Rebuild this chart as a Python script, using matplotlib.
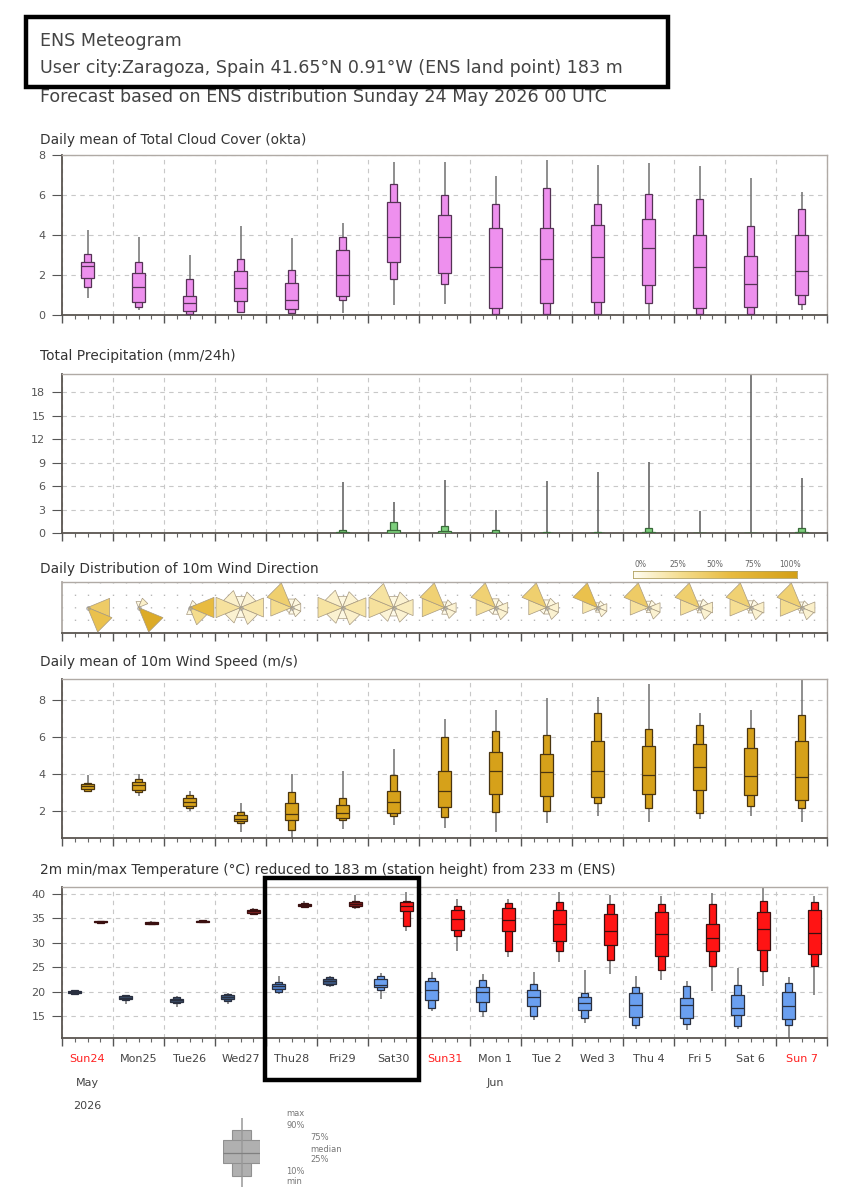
import matplotlib.pyplot as plt
import numpy as np
from matplotlib.colors import LinearSegmentedColormap
from matplotlib.patches import Rectangle
from matplotlib.transforms import blended_transform_factory

W, H = 863, 1200

# ---------------- data ----------------
days = ["Sun24", "Mon25", "Tue26", "Wed27", "Thu28", "Fri29", "Sat30", "Sun31",
        "Mon 1", "Tue 2", "Wed 3", "Thu 4", "Fri 5", "Sat 6", "Sun 7"]
sundays = [0, 7, 14]
months = [(0, "May"), (8, "Jun")]
year = "2026"

cloud_min = [0.85, 0.25, 0.05, 0.1, 0.05, 0.1, 0.5, 0.55, 0.0, 0.0, 0.0, 0.05, 0.0, 0.0, 0.25]
cloud_p10 = [1.4, 0.4, 0.05, 0.15, 0.1, 0.75, 1.8, 1.55, 0.05, 0.05, 0.05, 0.6, 0.05, 0.05, 0.55]
cloud_p25 = [1.85, 0.65, 0.2, 0.7, 0.3, 0.95, 2.65, 2.1, 0.35, 0.6, 0.65, 1.5, 0.35, 0.4, 1.0]
cloud_med = [2.45, 1.4, 0.6, 1.35, 0.75, 2.0, 3.9, 3.9, 2.4, 2.8, 2.9, 3.35, 2.4, 1.55, 2.2]
cloud_p75 = [2.65, 2.1, 0.95, 2.2, 1.6, 3.25, 5.65, 5.0, 4.35, 4.35, 4.5, 4.8, 4.0, 2.95, 4.0]
cloud_p90 = [3.05, 2.65, 1.8, 2.8, 2.25, 3.9, 6.55, 6.0, 5.55, 6.35, 5.55, 6.05, 5.8, 4.45, 5.3]
cloud_max = [4.25, 3.9, 3.0, 4.45, 3.85, 4.6, 7.65, 7.65, 6.95, 7.75, 7.5, 7.6, 7.45, 6.85, 6.15]

precip_min = [0] * 15
precip_p10 = [0] * 15
precip_p25 = [0] * 15
precip_med = [0, 0, 0, 0, 0, 0.0, 0.05, 0.0, 0.0, 0.0, 0.0, 0.0, 0.0, 0.0, 0.0]
precip_p75 = [0, 0, 0, 0, 0, 0.1, 0.4, 0.2, 0.05, 0.0, 0.0, 0.1, 0.0, 0.0, 0.1]
precip_p90 = [0, 0, 0, 0, 0, 0.35, 1.4, 0.9, 0.4, 0.1, 0.1, 0.7, 0.05, 0.05, 0.7]
precip_max = [0, 0, 0, 0, 0, 6.5, 4.0, 6.8, 3.0, 6.7, 7.8, 9.1, 2.8, 24.0, 7.0]

# wind direction frequency per day, sectors N, NE, E, SE, S, SW, W, NW
wind_dir_freq = [
    [0.0, 0.0, 0.45, 0.55, 0.0, 0.0, 0.0, 0.0],
    [0.05, 0.12, 0.0, 0.83, 0.0, 0.0, 0.0, 0.0],
    [0.0, 0.05, 0.6, 0.3, 0.05, 0.0, 0.0, 0.0],
    [0.05, 0.1, 0.22, 0.12, 0.04, 0.1, 0.25, 0.12],
    [0.05, 0.06, 0.06, 0.06, 0.03, 0.02, 0.3, 0.42],
    [0.05, 0.1, 0.22, 0.12, 0.05, 0.1, 0.24, 0.12],
    [0.05, 0.1, 0.16, 0.09, 0.03, 0.08, 0.25, 0.24],
    [0.02, 0.04, 0.09, 0.08, 0.03, 0.01, 0.33, 0.4],
    [0.05, 0.04, 0.1, 0.1, 0.03, 0.03, 0.25, 0.4],
    [0.04, 0.06, 0.1, 0.1, 0.03, 0.03, 0.22, 0.42],
    [0.02, 0.04, 0.08, 0.08, 0.02, 0.01, 0.2, 0.55],
    [0.03, 0.04, 0.1, 0.1, 0.02, 0.01, 0.25, 0.45],
    [0.03, 0.05, 0.12, 0.1, 0.02, 0.01, 0.25, 0.42],
    [0.03, 0.04, 0.12, 0.1, 0.02, 0.01, 0.28, 0.4],
    [0.02, 0.03, 0.12, 0.1, 0.02, 0.01, 0.3, 0.4],
]

ws_min = [3.05, 2.8, 2.0, 0.9, 0.55, 1.05, 1.25, 1.1, 0.9, 1.35, 1.75, 1.4, 1.6, 1.75, 1.4]
ws_p10 = [3.1, 3.05, 2.15, 1.35, 1.0, 1.5, 1.75, 1.7, 1.95, 2.0, 2.45, 2.15, 1.9, 2.3, 2.15]
ws_p25 = [3.2, 3.15, 2.3, 1.45, 1.5, 1.65, 1.9, 2.25, 2.95, 2.8, 2.75, 2.95, 3.15, 2.9, 2.6]
ws_med = [3.35, 3.4, 2.5, 1.6, 1.85, 1.9, 2.5, 3.1, 4.15, 4.1, 4.2, 3.95, 4.4, 3.9, 3.85]
ws_p75 = [3.45, 3.6, 2.7, 1.8, 2.45, 2.35, 3.1, 4.15, 5.2, 5.1, 5.8, 5.5, 5.65, 5.4, 5.8]
ws_p90 = [3.55, 3.75, 2.85, 1.95, 3.05, 2.7, 3.95, 6.0, 6.35, 6.1, 7.3, 6.45, 6.65, 6.5, 7.2]
ws_max = [3.95, 4.0, 3.1, 2.45, 4.0, 4.2, 5.35, 7.0, 7.45, 8.1, 8.15, 8.9, 7.3, 7.45, 9.3]

tmin_min = [19.3, 17.4, 16.9, 17.5, 19.6, 20.9, 18.5, 16.0, 14.8, 14.1, 13.6, 12.4, 12.2, 12.4, 10.5]
tmin_p10 = [19.6, 18.3, 17.6, 18.0, 20.0, 21.3, 20.4, 16.6, 16.0, 15.0, 14.6, 13.2, 13.4, 13.0, 13.1]
tmin_p25 = [19.75, 18.5, 17.9, 18.4, 20.5, 21.6, 20.9, 18.2, 17.8, 17.0, 16.3, 14.8, 14.6, 15.3, 14.4]
tmin_med = [19.95, 18.75, 18.2, 18.85, 21.2, 22.2, 21.3, 20.3, 20.0, 18.9, 17.7, 17.2, 17.2, 16.6, 17.1]
tmin_p75 = [20.15, 19.0, 18.5, 19.2, 21.6, 22.6, 22.6, 22.1, 20.9, 20.4, 18.8, 19.7, 18.7, 19.2, 19.9]
tmin_p90 = [20.3, 19.2, 18.8, 19.6, 22.0, 22.9, 23.1, 22.7, 22.3, 21.6, 19.8, 20.9, 21.2, 21.4, 21.8]
tmin_max = [20.4, 19.4, 19.0, 19.8, 23.1, 23.1, 23.8, 24.0, 23.6, 24.0, 24.5, 23.1, 22.2, 24.9, 22.9]

tmax_min = [34.0, 33.7, 34.0, 35.6, 37.2, 36.8, 32.3, 28.4, 27.1, 26.0, 23.5, 22.3, 20.1, 21.1, 19.4]
tmax_p10 = [34.1, 33.8, 34.15, 35.9, 37.4, 37.3, 33.5, 31.3, 28.3, 28.3, 26.4, 24.5, 25.3, 24.2, 25.3]
tmax_p25 = [34.15, 33.9, 34.25, 36.1, 37.5, 37.6, 36.4, 32.6, 32.3, 30.3, 29.5, 27.3, 28.3, 28.6, 27.7]
tmax_med = [34.25, 34.0, 34.4, 36.4, 37.75, 37.95, 37.5, 34.8, 34.7, 33.8, 32.4, 31.8, 31.0, 32.8, 31.9]
tmax_p75 = [34.35, 34.15, 34.5, 36.7, 37.95, 38.3, 38.4, 36.7, 37.1, 36.7, 35.9, 36.2, 33.8, 36.2, 36.6]
tmax_p90 = [34.45, 34.25, 34.6, 36.9, 38.1, 38.5, 38.6, 37.5, 38.1, 38.4, 37.9, 37.9, 38.0, 38.6, 38.4]
tmax_max = [34.5, 34.35, 34.7, 37.2, 38.5, 39.8, 40.4, 38.9, 38.9, 40.3, 39.8, 39.6, 40.1, 41.8, 39.6]

# ---------------- styles ----------------
tmax_colors = ['#4a2828', '#4a2828', '#4a2828', '#8a2424', '#7c1e1e', '#8b1c1c'] + ['#ff1414'] * 9
tmin_colors = ['#424c5a', '#3d4f6a', '#3d4f6a', '#3d5a80', '#5080c8', '#3d5a85'] + ['#6a9ff0'] * 9
text_col = '#444444'
NW, WW = 0.14, 0.25   # narrow / wide box widths in days

fig = plt.figure(figsize=(W / 100, H / 100), dpi=100)
ndays = len(days)
xd = np.arange(ndays)


def px_axes(x0, y0, x1, y1):
    return fig.add_axes([x0 / W, 1 - y1 / H, (x1 - x0) / W, (y1 - y0) / H])


def setup(ax, ylim, yticks, dashed=True):
    ax.set_xlim(0, ndays)
    ax.set_ylim(*ylim)
    ax.set_xticks(np.arange(ndays + 1))
    ax.set_xticks(np.arange(0, ndays + 0.01, 0.25), minor=True)
    ax.set_xticklabels([])
    ax.set_yticks(yticks)
    ax.tick_params(axis='x', which='major', length=6, width=1, color='#555')
    ax.tick_params(axis='x', which='minor', length=3, width=0.8, color='#666')
    ax.tick_params(axis='y', length=7, width=0.8, color='#555', labelsize=8,
                   labelcolor='#555', pad=5)
    for s in ['left', 'bottom']:
        ax.spines[s].set_color('#5a5550')
        ax.spines[s].set_linewidth(1.3)
    for s in ['top', 'right']:
        ax.spines[s].set_color('#b0aaa5')
        ax.spines[s].set_linewidth(1.0)
    if dashed:
        ax.grid(True, which='major', color='#c8c8c8', linestyle=(0, (4, 4)), linewidth=0.8)
    ax.set_axisbelow(True)


def boxes(ax, x, mn, p10, p25, med, p75, p90, mx, fc, ec, wc='#707070'):
    x = np.asarray(x, dtype=float)
    ax.vlines(x, mn, mx, color=wc, lw=1.1, zorder=2)
    ax.bar(x, np.subtract(p90, p10), bottom=p10, width=NW, color=fc, edgecolor=ec,
           lw=0.9, zorder=3)
    ax.bar(x, np.subtract(p75, p25), bottom=p25, width=WW, color=fc, edgecolor=ec,
           lw=0.9, zorder=4)
    ax.hlines(med, x - WW / 2, x + WW / 2, color=ec, lw=0.9, zorder=5)


# ---- cloud cover ----
ax1 = px_axes(62, 155, 827, 315)
setup(ax1, (0, 8), [0, 2, 4, 6, 8])
boxes(ax1, xd + 0.5, cloud_min, cloud_p10, cloud_p25, cloud_med, cloud_p75, cloud_p90,
      cloud_max, '#ee90ee', '#553355')

# ---- precipitation ----
ax2 = px_axes(62, 374, 827, 533)
setup(ax2, (0, 20.3), [0, 3, 6, 9, 12, 15, 18])
wet = np.nonzero(precip_max)[0]
pick = lambda a: np.asarray(a, dtype=float)[wet]
boxes(ax2, xd[wet] + 0.5, pick(precip_min), pick(precip_p10), pick(precip_p25),
      pick(precip_med), pick(precip_p75), pick(precip_p90), pick(precip_max),
      '#7ccf7c', '#3a6a3a', wc='#5a5a5a')

# ---- wind direction ----
ax3 = px_axes(62, 582, 827, 633)
setup(ax3, (-0.5, 0.5), [], dashed=False)
ax3.spines['left'].set_color('#b0aaa5')
ax3.grid(True, which='minor', axis='x', color='#b8b8b8', linestyle=(0, (1, 8)), linewidth=1.0)
ax3.grid(True, which='major', axis='x', color='#b8b8b8', linestyle=(0, (1, 8)), linewidth=1.0)
wd_cmap = LinearSegmentedColormap.from_list(
    'wd', [(0, '#fffdf2'), (0.3, '#f4dc8c'), (0.6, '#e8bb40'), (1, '#d4a017')])
R = 0.52
for i, freqs in enumerate(wind_dir_freq):
    f = np.asarray(freqs)
    x0 = i + 0.5
    for k, fk in enumerate(f):
        if fk <= 0:
            continue
        r = R * np.sqrt(fk / f.max())
        th = np.deg2rad(k * 45 + np.array([-22.5, 22.5]))
        ax3.fill([x0, x0 + r * np.sin(th[0]), x0 + r * np.sin(th[1])],
                 [0, r * np.cos(th[0]), r * np.cos(th[1])],
                 fc=wd_cmap(fk), ec='#a89a80', lw=0.5, zorder=3, clip_on=False)
    ax3.plot(x0, 0, 'o', ms=2.5, mfc='none', mec='#999', mew=0.6, zorder=4)

cax = px_axes(633, 571, 797, 578)
cax.imshow(np.linspace(0, 1, 256)[None, :], extent=(-0.05, 1.05, 0, 1), aspect='auto',
           cmap=wd_cmap)
cax.set_xlim(-0.05, 1.05)
cax.set_yticks([])
cax.set_xticks([0, 0.25, 0.5, 0.75, 1.0])
cax.set_xticklabels(['0%', '25%', '50%', '75%', '100%'])
cax.tick_params(axis='x', top=True, labeltop=True, bottom=False, labelbottom=False,
                length=0, labelsize=5.5, labelcolor='#666', pad=1.5)
for s in cax.spines.values():
    s.set_color('#b0a060')
    s.set_linewidth(0.6)

# ---- wind speed ----
ax4 = px_axes(62, 679, 827, 838)
setup(ax4, (0.55, 9.15), [2, 4, 6, 8])
boxes(ax4, xd + 0.5, ws_min, ws_p10, ws_p25, ws_med, ws_p75, ws_p90, ws_max,
      '#d6a11a', '#4a3510')

# ---- temperature ----
ax5 = px_axes(62, 887, 827, 1038)
setup(ax5, (10.5, 41.4), [15, 20, 25, 30, 35, 40])
boxes(ax5, xd + 0.25, tmin_min, tmin_p10, tmin_p25, tmin_med, tmin_p75, tmin_p90,
      tmin_max, tmin_colors, '#2a3040')
boxes(ax5, xd + 0.75, tmax_min, tmax_p10, tmax_p25, tmax_med, tmax_p75, tmax_p90,
      tmax_max, tmax_colors, '#3a1010')

tr = blended_transform_factory(ax5.transData, fig.transFigure)
for i, d in enumerate(days):
    ax5.text(i + 0.5, 1 - 1059 / H, d, transform=tr, ha='center', va='center', fontsize=8,
             color='#ff2020' if i in sundays else text_col)
for i, m in months:
    ax5.text(i + 0.5, 1 - 1083 / H, m, transform=tr, ha='center', va='center', fontsize=8,
             color=text_col)
ax5.text(0.5, 1 - 1106 / H, year, transform=tr, ha='center', va='center', fontsize=8,
         color=text_col)

# ---- overlay: titles, header, highlight boxes, legend ----
ov = fig.add_axes([0, 0, 1, 1], zorder=10)
ov.set_xlim(0, W)
ov.set_ylim(H, 0)
ov.axis('off')
ov.patch.set_alpha(0)

ov.text(40, 41, "ENS Meteogram", fontsize=12.6, color=text_col, va='center')
ov.text(40, 68, "User city:Zaragoza, Spain 41.65°N 0.91°W (ENS land point) 183 m",
        fontsize=12.6, color=text_col, va='center')
ov.text(40, 97, "Forecast based on ENS distribution Sunday 24 May 2026 00 UTC",
        fontsize=12.6, color=text_col, va='center', zorder=1)

titles = [(140, "Daily mean of Total Cloud Cover (okta)"),
          (356, "Total Precipitation (mm/24h)"),
          (569, "Daily Distribution of 10m Wind Direction"),
          (662, "Daily mean of 10m Wind Speed (m/s)"),
          (870, "2m min/max Temperature (°C) reduced to 183 m (station height) from 233 m (ENS)")]
for y, t in titles:
    ov.text(40, y, t, fontsize=9.9, color='#333', va='center')

ov.add_patch(Rectangle((25.5, 17), 642, 70, fill=False, ec='black', lw=3.2, zorder=5))
ov.add_patch(Rectangle((264.5, 877.5), 154, 202, fill=False, ec='black', lw=3.2, zorder=5))

# legend box-plot key
leg = ov.inset_axes([223, 1118, 37, 69], transform=ov.transData)
leg.set_xlim(-0.5, 0.5)
leg.set_ylim(0, 6)
leg.axis('off')
leg_stats = [0, 1, 2, 3, 4, 5, 6]   # min, 10%, 25%, median, 75%, 90%, max
lw_n = 0.51
leg.vlines(0, leg_stats[0], leg_stats[6], color='#999', lw=1.1)
leg.bar(0, leg_stats[5] - leg_stats[1], bottom=leg_stats[1], width=lw_n, color='#b0b0b0',
        edgecolor='#909090', lw=0.8)
leg.bar(0, leg_stats[4] - leg_stats[2], bottom=leg_stats[2] + 0.05, width=1.0,
        color='#b0b0b0', edgecolor='#909090', lw=0.8)
leg.hlines(leg_stats[3], -0.5, 0.5, color='#808080', lw=0.9)
for y, x, s in [(1114, 286, "max"), (1125, 286, "90%"), (1138, 310, "75%"),
                (1149, 310, "median"), (1160, 310, "25%"), (1171, 286, "10%"),
                (1182, 286, "min")]:
    ov.text(x, y, s, fontsize=6, color='#777', va='center')

fig.savefig("out.png", dpi=100)
